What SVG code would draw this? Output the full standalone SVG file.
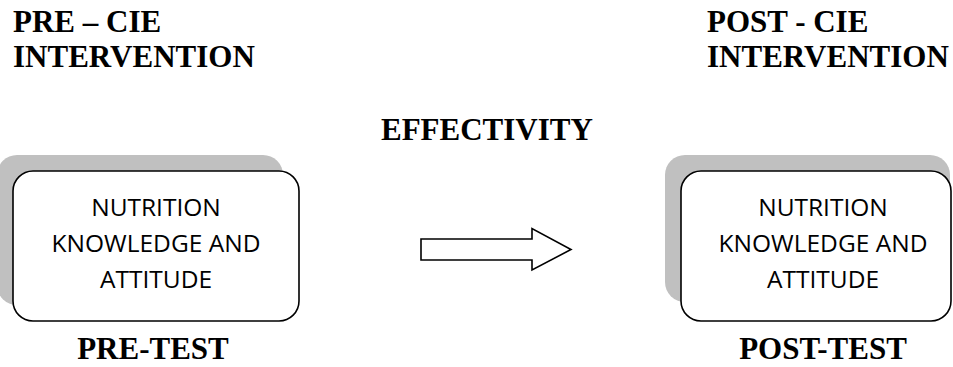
<svg xmlns="http://www.w3.org/2000/svg" width="953" height="367" viewBox="0 0 953 367">
<style>
.hd{font-family:"Liberation Serif","Times New Roman",serif;font-weight:bold;font-size:31px;fill:#000}
.bx{font-family:"Open Sans","Noto Sans",sans-serif;font-size:24.5px;fill:#000;text-anchor:middle}
.sh{fill:#c0c0c0;stroke:none}
.fr{fill:#fff;stroke:#000;stroke-width:1.6}
</style>
<rect width="953" height="367" fill="#fff"/>
<g id="title-pre">
<text class="hd" x="13" y="32">PRE – CIE</text>
<text class="hd" x="13" y="67">INTERVENTION</text>
</g>
<g id="title-post">
<text class="hd" x="707" y="32">POST - CIE</text>
<text class="hd" x="707" y="67">INTERVENTION</text>
</g>
<g id="label-effectivity">
<text class="hd" x="381" y="140">EFFECTIVITY</text>
</g>
<g id="node-pre">
<rect class="sh" x="-3" y="155" width="286" height="150" rx="20"/>
<rect class="fr" x="13" y="171" width="286" height="150" rx="20"/>
<text class="bx" x="156" y="216">NUTRITION</text>
<text class="bx" x="156" y="252">KNOWLEDGE AND</text>
<text class="bx" x="156" y="288">ATTITUDE</text>
<text class="hd" x="153" y="359" text-anchor="middle">PRE-TEST</text>
</g>
<g id="node-post">
<rect class="sh" x="665" y="155" width="285" height="147" rx="20"/>
<rect class="fr" x="681" y="171" width="270" height="150" rx="20"/>
<text class="bx" x="823" y="216">NUTRITION</text>
<text class="bx" x="823" y="252">KNOWLEDGE AND</text>
<text class="bx" x="823" y="288">ATTITUDE</text>
<text class="hd" x="823" y="359" text-anchor="middle">POST-TEST</text>
</g>
<g id="connectors">
<polygon class="fr" points="421,239 532,239 532,228.5 571,249.5 532,270 532,260 421,260"/>
</g>
</svg>
